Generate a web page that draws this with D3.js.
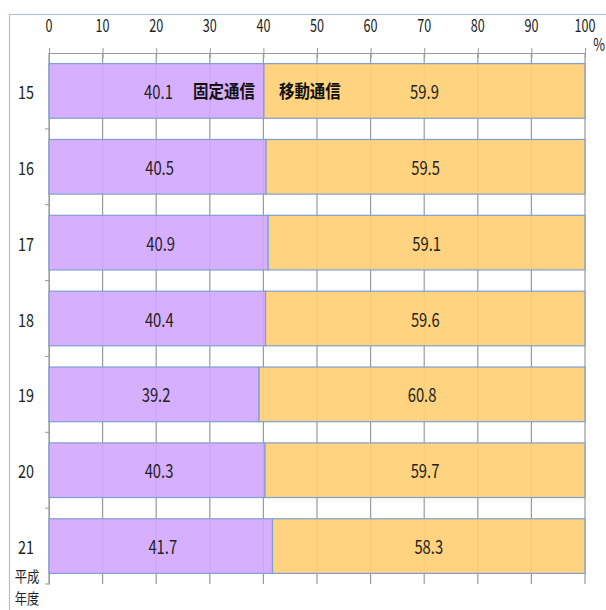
<!DOCTYPE html>
<html><head><meta charset="utf-8">
<script src="https://cdn.jsdelivr.net/npm/d3@7"></script>
<style>body{margin:0;background:#fff;}svg{display:block;}</style>
</head><body>
<svg id="c" width="606" height="610"></svg>
<script>
const years = ["15","16","17","18","19","20","21"];
const fixed = [40.1,40.5,40.9,40.4,39.2,40.3,41.7];
const mobile = [59.9,59.5,59.1,59.6,60.8,59.7,58.3];
const seriesNames = ["固定通信","移動通信"];
const xTicks = [0,10,20,30,40,50,60,70,80,90,100];

(function(){
const svg = d3.select("#c");
const font = "'Noto Sans CJK JP', sans-serif";
const pL = 49, pR = 585, pT = 53, pB = 584;
const x = d3.scaleLinear().domain([0,100]).range([pL,pR]);
const y = d3.scaleBand().domain(years).range([pT,pB]).paddingInner(0.28).paddingOuter(0.14);

function txt(parent, tx, ty, s, opts){
  const o = Object.assign({size:18, sx:0.75, anchor:"middle", weight:"normal", fill:"#222"}, opts||{});
  return parent.append("text")
    .attr("transform",`translate(${tx},${ty}) scale(${o.sx},1)`)
    .attr("text-anchor",o.anchor).attr("font-family",font).attr("font-size",o.size)
    .attr("font-weight",o.weight).attr("fill",o.fill).text(s);
}

// frame
svg.append("path").attr("d",`M9.5,610 V14.5 H606`).attr("fill","none").attr("stroke","#a9c0e0").attr("stroke-width",1.2);

// grid
svg.append("g").selectAll("line").data(xTicks).join("line")
  .attr("x1",d=>x(d)).attr("x2",d=>x(d)).attr("y1",pT).attr("y2",pB)
  .attr("stroke","#9a9a9a").attr("stroke-width",1.2);

// top axis
const ax = d3.axisTop(x).tickValues(xTicks).tickSize(5).tickSizeOuter(0).tickFormat("");
const gA = svg.append("g").attr("transform",`translate(0,${pT})`).call(ax);
gA.select(".domain").attr("stroke","#9a9a9a");
gA.selectAll(".tick line").attr("stroke","#9a9a9a").attr("y2",5).attr("y1",-5);
const gT = svg.append("g");
xTicks.forEach(t=>txt(gT, x(t), 32, String(t), {size:18, sx:0.7}));
txt(svg, 599, 51, "%", {size:17, sx:0.75});

// left axis
const ay = d3.axisLeft(y).tickSize(0).tickFormat("");
const gY = svg.append("g").attr("transform",`translate(${pL},0)`).call(ay);
gY.select(".domain").attr("stroke","#9a9a9a");
const gC = svg.append("g");
years.forEach(yr=>txt(gC, 26, y(yr)+y.bandwidth()/2+8, yr, {size:18, sx:0.8}));
const bounds = years.map(d=>y(d)-y.step()*y.paddingInner()/2).concat([pB]);
svg.append("g").selectAll("line").data(bounds.slice(1)).join("line")
  .attr("x1",pL-4).attr("x2",pL).attr("y1",d=>d).attr("y2",d=>d).attr("stroke","#9a9a9a");

// bars
const rows = years.map((yr,i)=>({yr, f:fixed[i], m:mobile[i]}));
const g = svg.append("g");
g.selectAll(".f").data(rows).join("rect")
  .attr("x",x(0)).attr("y",d=>y(d.yr)).attr("width",d=>x(d.f)-x(0)).attr("height",y.bandwidth())
  .attr("fill","#d3a6ff").attr("fill-opacity",0.9).attr("stroke","#7f9fd0").attr("stroke-width",1.2);
g.selectAll(".m").data(rows).join("rect")
  .attr("x",d=>x(d.f)).attr("y",d=>y(d.yr)).attr("width",d=>x(d.f+d.m)-x(d.f)).attr("height",y.bandwidth())
  .attr("fill","#ffcf75").attr("fill-opacity",0.92).attr("stroke","#7f9fd0").attr("stroke-width",1.2);

// value labels
rows.forEach(d=>{
  const cy = y(d.yr)+y.bandwidth()/2+8;
  txt(g, x(d.f/2)+2, cy, d.f.toFixed(1), {size:19, sx:0.78});
  txt(g, x(d.f+d.m/2), cy, d.m.toFixed(1), {size:19, sx:0.78});
});

// series name labels
const r0 = rows[0];
const cy0 = y(r0.yr)+y.bandwidth()/2+7;
txt(svg, x(r0.f)-9, cy0, seriesNames[0], {size:18, sx:0.86, anchor:"end", weight:"bold", fill:"#111"});
txt(svg, x(r0.f)+15, cy0, seriesNames[1], {size:18, sx:0.86, anchor:"start", weight:"bold", fill:"#111"});

// unit label
txt(svg, 27, 582, "平成", {size:15, sx:0.82});
txt(svg, 27, 604, "年度", {size:15, sx:0.82});
})();
</script>
</body></html>
